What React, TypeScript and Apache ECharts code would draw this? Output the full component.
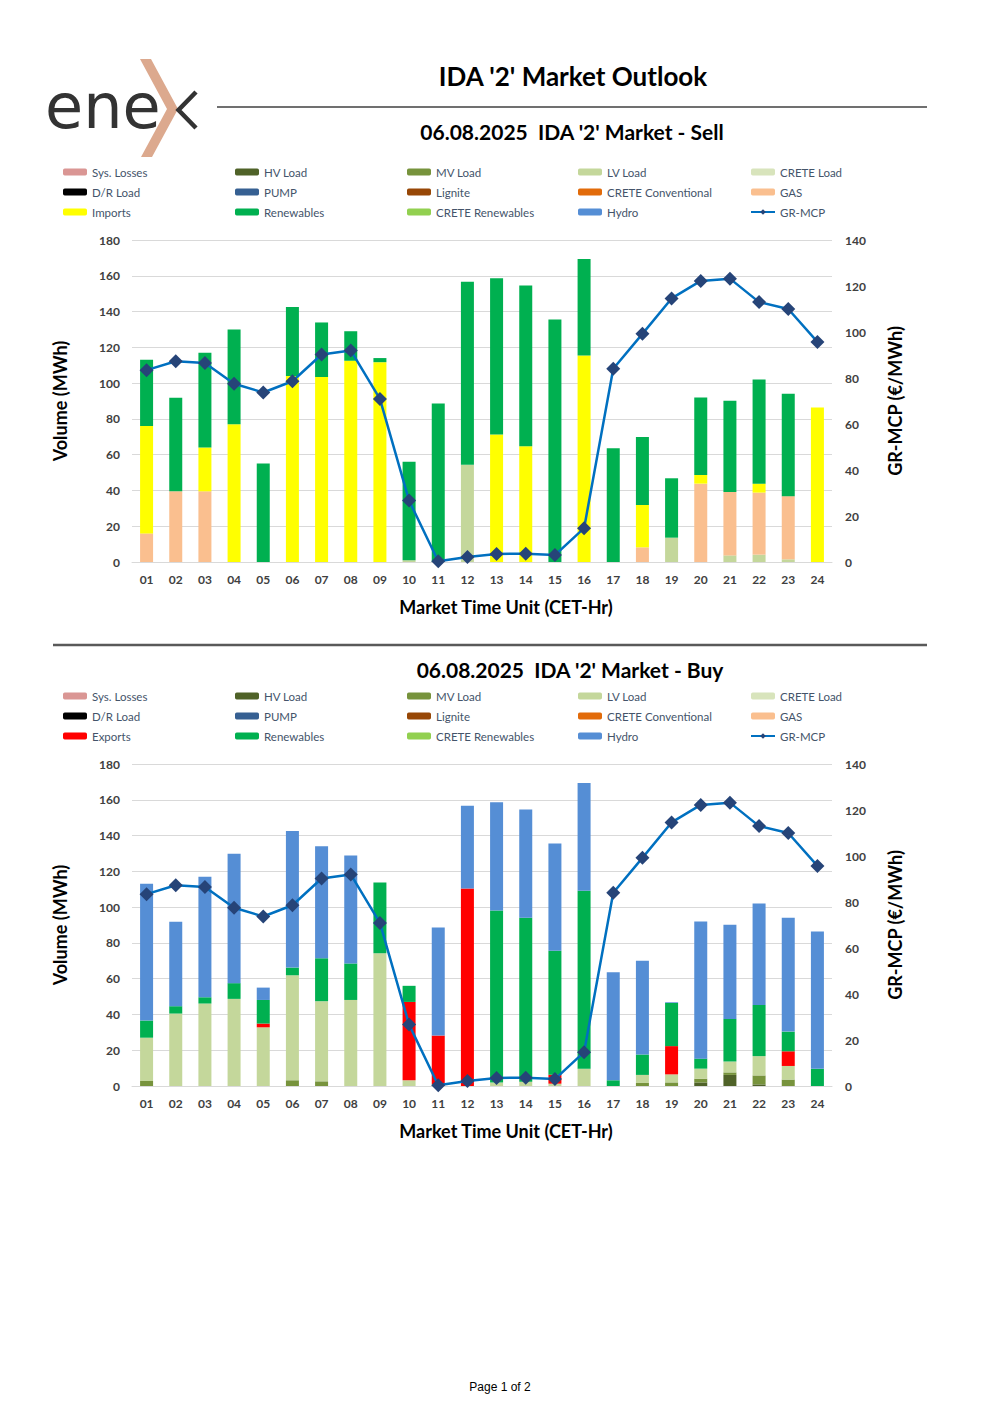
import React, { useEffect, useRef } from 'react';
import * as echarts from 'echarts';

const hours = ['01','02','03','04','05','06','07','08','09','10','11','12','13','14','15','16','17','18','19','20','21','22','23','24'];

const volumeMin = 0;
const volumeMax = 180;
const volumeStep = 20;
const priceMin = 0;
const priceMax = 140;
const priceStep = 20;

// GR-MCP (€/MWh)
const mcp = [83.4, 87.3, 86.5, 77.5, 73.7, 78.6, 90.2, 92.0, 70.9, 26.7, 0.3, 2.2, 3.5, 3.6, 3.0, 14.7, 84.0, 99.2, 114.6, 122.2, 123.2, 113.0, 110.0, 95.7];

// Sell side (MWh)
const sellLV = [0, 0, 0, 0, 0, 0, 0, 0, 0, 1, 0, 54.3, 0, 0, 0, 0, 0, 0, 13.6, 0, 3.7, 4.1, 1.5, 0];
const sellGas = [16, 39.5, 39.5, 0, 0, 0, 0, 0, 0, 0, 0, 0, 0, 0, 0, 0, 0, 8.2, 0, 43.8, 35.5, 34.7, 35.3, 0];
const sellImports = [60, 0, 24.5, 77, 0, 104, 103.4, 112.5, 111.7, 0, 0, 0, 71.3, 64.7, 0, 115.5, 0, 23.7, 0, 4.9, 0, 5, 0, 86.4];
const sellRenewables = [37, 52.3, 53, 53, 55, 38.5, 30.5, 16.5, 2.3, 55, 88.6, 102.4, 87.3, 89.9, 135.6, 53.9, 63.6, 38, 33.2, 43.3, 50.9, 58.2, 57.2, 0];

// Buy side (MWh)
const buyHV = [0, 0, 0, 0, 0, 0, 0, 0, 0, 0, 0, 0, 0, 0, 0, 0, 0, 0, 0, 2, 6.2, 0.9, 0, 0];
const buyMV = [2.8, 0, 0, 0, 0, 3.2, 2.6, 0, 0, 0, 0, 0, 0, 0, 0, 0, 0, 1.7, 2, 2.1, 1.4, 5, 3.6, 0];
const buyLV = [24.2, 40.5, 46.1, 48.7, 32.8, 58.7, 44.8, 48.1, 74.2, 3.2, 1, 0, 1.9, 2.4, 1.3, 9.7, 0, 4.5, 4.5, 5.6, 6.1, 10.8, 7.6, 0];
const buyExports = [0, 0, 0, 0, 2.1, 0, 0, 0, 0, 43.8, 27.2, 110.4, 0, 0, 5, 0, 0, 0, 15.8, 0, 0, 0, 8.2, 0];
const buyRenewables = [9.6, 4.1, 3.5, 8.8, 13.2, 4.3, 24, 20.4, 39.6, 9, 0, 0, 96.2, 91.6, 69.3, 99.4, 3.2, 11.4, 24.1, 5.6, 23.8, 28.6, 11, 9.6];
const buyHydro = [76.4, 47.2, 67.4, 72.3, 6.9, 76.3, 62.6, 60.4, 0, 0, 60.4, 46.3, 60.5, 60.6, 60, 60.3, 60.4, 52.4, 0.4, 76.7, 52.6, 56.7, 63.6, 76.8];

const COLORS: Record<string, string> = {
  'Sys. Losses': '#DA9694',
  'HV Load': '#4F6228',
  'MV Load': '#77933C',
  'LV Load': '#C4D79B',
  'CRETE Load': '#D8E4BC',
  'D/R Load': '#000000',
  'PUMP': '#366092',
  'Lignite': '#974706',
  'CRETE Conventional': '#E26B0A',
  'GAS': '#FABF8F',
  'Imports': '#FFFF00',
  'Exports': '#FF0000',
  'Renewables': '#00B050',
  'CRETE Renewables': '#92D050',
  'Hydro': '#558ED5',
};

const FONT = 'Lato, "Noto Sans", "DejaVu Sans", sans-serif';

const sellStack: [string, number[]][] = [
  ['Sys. Losses', []], ['HV Load', []], ['MV Load', []], ['LV Load', sellLV], ['CRETE Load', []],
  ['D/R Load', []], ['PUMP', []], ['Lignite', []], ['CRETE Conventional', []], ['GAS', sellGas],
  ['Imports', sellImports], ['Renewables', sellRenewables], ['CRETE Renewables', []], ['Hydro', []],
];
const buyStack: [string, number[]][] = [
  ['Sys. Losses', []], ['HV Load', buyHV], ['MV Load', buyMV], ['LV Load', buyLV], ['CRETE Load', []],
  ['D/R Load', []], ['PUMP', []], ['Lignite', []], ['CRETE Conventional', []], ['GAS', []],
  ['Exports', buyExports], ['Renewables', buyRenewables], ['CRETE Renewables', []], ['Hydro', buyHydro],
];

function legendColumns(flowName: string) {
  return [
    ['Sys. Losses', 'D/R Load', flowName],
    ['HV Load', 'PUMP', 'Renewables'],
    ['MV Load', 'Lignite', 'CRETE Renewables'],
    ['LV Load', 'CRETE Conventional', 'Hydro'],
    ['CRETE Load', 'GAS', 'GR-MCP'],
  ];
}

const colX = [63, 235, 407, 578, 750];

function App() {
  const ref = useRef<HTMLDivElement>(null);
  useEffect(() => {
    document.body.style.margin = '0';
    if (!ref.current) return;
    const chart = echarts.init(ref.current, null, { renderer: 'svg' });

    const gridTops = [240, 764];
    const grids = gridTops.map((t) => ({ left: 132, width: 700, top: t, height: 322 }));

    const xAxes = gridTops.map((_, i) => ({
      type: 'category',
      gridIndex: i,
      data: hours,
      axisLine: { lineStyle: { color: '#D9D9D9', width: 1 } },
      axisTick: { show: false },
      axisLabel: { color: '#404040', fontSize: 12, fontWeight: 'bold', fontFamily: FONT, margin: 11 },
    }));

    const yAxes: any[] = [];
    gridTops.forEach((_, i) => {
      yAxes.push({
        type: 'value', gridIndex: i, min: volumeMin, max: volumeMax, interval: volumeStep,
        axisLine: { show: false }, axisTick: { show: false },
        splitLine: { lineStyle: { color: '#D9D9D9', width: 1 } },
        axisLabel: { color: '#404040', fontSize: 12, fontWeight: 'bold', fontFamily: FONT, margin: 12 },
      });
      yAxes.push({
        type: 'value', gridIndex: i, position: 'right', min: priceMin, max: priceMax, interval: priceStep,
        axisLine: { show: false }, axisTick: { show: false }, splitLine: { show: false },
        axisLabel: { color: '#404040', fontSize: 12, fontWeight: 'bold', fontFamily: FONT, margin: 13 },
      });
    });

    const series: any[] = [];
    [sellStack, buyStack].forEach((stack, i) => {
      stack.forEach(([name, data]) => {
        series.push({
          type: 'bar', name, data, stack: 'vol' + i, xAxisIndex: i, yAxisIndex: i * 2,
          barWidth: 13, legendIcon: 'rect',
          itemStyle: { color: COLORS[name] },
        });
      });
      series.push({
        type: 'line', name: 'GR-MCP', data: mcp, xAxisIndex: i, yAxisIndex: i * 2 + 1,
        symbol: 'diamond', symbolSize: 14, z: 5,
        lineStyle: { color: '#0070C0', width: 2.5 },
        itemStyle: { color: '#264478' },
      });
    });

    const legends: any[] = [];
    const legendTops = [165, 689];
    ['Imports', 'Exports'].forEach((flow, i) => {
      legendColumns(flow).forEach((col, c) => {
        legends.push({
          orient: 'vertical', left: colX[c], top: legendTops[i], padding: 0,
          itemWidth: 24, itemHeight: 7, itemGap: 6,
          selectedMode: false,
          data: col,
          textStyle: { color: '#44546A', fontSize: 11.5, fontFamily: FONT, lineHeight: 14 },
        });
      });
    });

    const txt = (text: string, x: number, y: number, font: string) => ({
      type: 'text', x, y,
      style: { text, font, fill: '#000', textAlign: 'center', textVerticalAlign: 'middle' },
    });
    const vtxt = (text: string, x: number, y: number) => ({
      type: 'text', x, y, rotation: Math.PI / 2,
      style: { text, font: `bold 18px ${FONT}`, fill: '#000', textAlign: 'center', textVerticalAlign: 'middle' },
    });

    const graphic: any[] = [
      // logo
      { type: 'text', x: 45, y: 106, style: { text: 'ene', font: '62px "DejaVu Sans", sans-serif', fill: '#333333', textAlign: 'left', textVerticalAlign: 'middle' } },
      { type: 'polygon', shape: { points: [[140, 59], [151, 59], [178, 109], [152, 157], [141, 157], [167, 109]] }, style: { fill: '#DCA98E' } },
      { type: 'polyline', shape: { points: [[196, 92], [178.5, 110], [196, 128]] }, style: { stroke: '#333333', lineWidth: 4.5, fill: 'none' } },
      // title
      txt("IDA '2' Market Outlook", 573, 76, `bold 26px ${FONT}`),
      { type: 'line', shape: { x1: 217, y1: 107, x2: 927, y2: 107 }, style: { stroke: '#404040', lineWidth: 1.3 } },
      txt("06.08.2025  IDA '2' Market - Sell", 572, 131, `bold 21px ${FONT}`),
      txt('Market Time Unit (CET-Hr)', 506, 607, `bold 18px ${FONT}`),
      vtxt('Volume (MWh)', 60, 401),
      vtxt('GR-MCP (€/MWh)', 895, 401),
      { type: 'line', shape: { x1: 53, y1: 645, x2: 927, y2: 645 }, style: { stroke: '#595959', lineWidth: 2.5 } },
      txt("06.08.2025  IDA '2' Market - Buy", 570, 669, `bold 21px ${FONT}`),
      txt('Market Time Unit (CET-Hr)', 506, 1131, `bold 18px ${FONT}`),
      vtxt('Volume (MWh)', 60, 925),
      vtxt('GR-MCP (€/MWh)', 895, 925),
      txt('Page 1 of 2', 500, 1387, '12px "Liberation Sans", Arial, sans-serif'),
    ];

    chart.setOption({
      animation: false,
      backgroundColor: '#FFFFFF',
      textStyle: { fontFamily: FONT },
      grid: grids,
      xAxis: xAxes,
      yAxis: yAxes,
      legend: legends,
      series,
      graphic,
    });
    return () => chart.dispose();
  }, []);
  return <div ref={ref} style={{ width: 1000, height: 1415 }} />;
}

export default App;
